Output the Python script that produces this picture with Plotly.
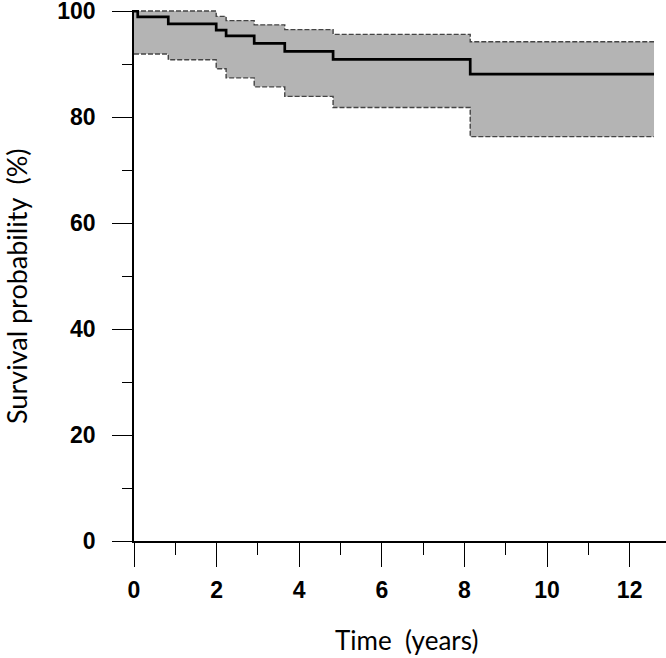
import plotly.graph_objects as go

# Kaplan-Meier estimate with 95% confidence band
time_years = [0, 0.09, 0.83, 1.99, 2.23, 2.91, 3.65, 4.82, 8.14, 12.59]
survival = [100, 98.9, 97.6, 96.4, 95.3, 93.9, 92.4, 90.9, 88.1, 88.1]
ci_upper = [100, 100, 100, 99.0, 98.2, 97.4, 96.5, 95.6, 94.2, 94.2]
ci_lower = [91.9, 91.9, 90.8, 89.1, 87.4, 85.7, 83.9, 81.8, 76.3, 76.3]

x_ticks = [0, 2, 4, 6, 8, 10, 12]
y_ticks = [0, 20, 40, 60, 80, 100]

fig = go.Figure()

fig.add_trace(go.Scatter(
    x=time_years, y=ci_upper, mode="lines", line_shape="hv",
    line=dict(color="#444444", width=1.4, dash="5px,2px"),
    hoverinfo="skip", showlegend=False))
fig.add_trace(go.Scatter(
    x=time_years, y=ci_lower, mode="lines", line_shape="hv",
    line=dict(color="#444444", width=1.4, dash="5px,2px"),
    fill="tonexty", fillcolor="#b4b4b4",
    hoverinfo="skip", showlegend=False))
fig.add_trace(go.Scatter(
    x=time_years, y=survival, mode="lines", line_shape="hv",
    line=dict(color="black", width=2.7),
    showlegend=False))

tick_font = dict(family="Liberation Sans", size=23, color="black", weight="bold")

fig.update_xaxes(
    range=[0, 12.88], tickvals=x_ticks, ticktext=[str(v) for v in x_ticks],
    ticks="outside", ticklen=24, tickwidth=1.4, tickcolor="black",
    minor=dict(dtick=1, tick0=0, ticks="outside", ticklen=12, tickwidth=1.4, tickcolor="black"),
    showline=True, linecolor="black", linewidth=1.6,
    showgrid=False, zeroline=False, tickfont=tick_font, ticklabelstandoff=4,
    ticklabeloverflow="allow", automargin=False)

fig.update_yaxes(
    range=[0, 100.2], tickvals=y_ticks, ticktext=[str(v) for v in y_ticks],
    ticks="outside", ticklen=20, tickwidth=1.4, tickcolor="black",
    minor=dict(dtick=10, tick0=0, ticks="outside", ticklen=10, tickwidth=1.4, tickcolor="black"),
    showline=True, linecolor="black", linewidth=1.6,
    showgrid=False, zeroline=False, tickfont=tick_font, ticklabelstandoff=12,
    ticklabeloverflow="allow", automargin=False)

# axis titles placed as annotations so they sit where the original has them
fig.add_annotation(text="Time\u00a0 (years)", xref="paper", yref="paper",
                   x=0.513, y=-0.186, showarrow=False,
                   font=dict(family="Lato", size=26, color="black"),
                   xanchor="center", yanchor="middle")
fig.add_annotation(text="Survival probability\u00a0 (%)", xref="paper", yref="paper",
                   x=-0.221, y=0.481, showarrow=False,
                   font=dict(family="Lato", size=27, color="black"),
                   textangle=-90, xanchor="center", yanchor="middle")

fig.update_layout(
    width=666, height=658,
    margin=dict(l=134, r=0, t=10, b=117),
    plot_bgcolor="white", paper_bgcolor="white")

# drop the default page margin so the figure fills the window exactly
fig.write_html("out.html", config={"displayModeBar": False},
               post_script="document.body.style.margin='0';")
